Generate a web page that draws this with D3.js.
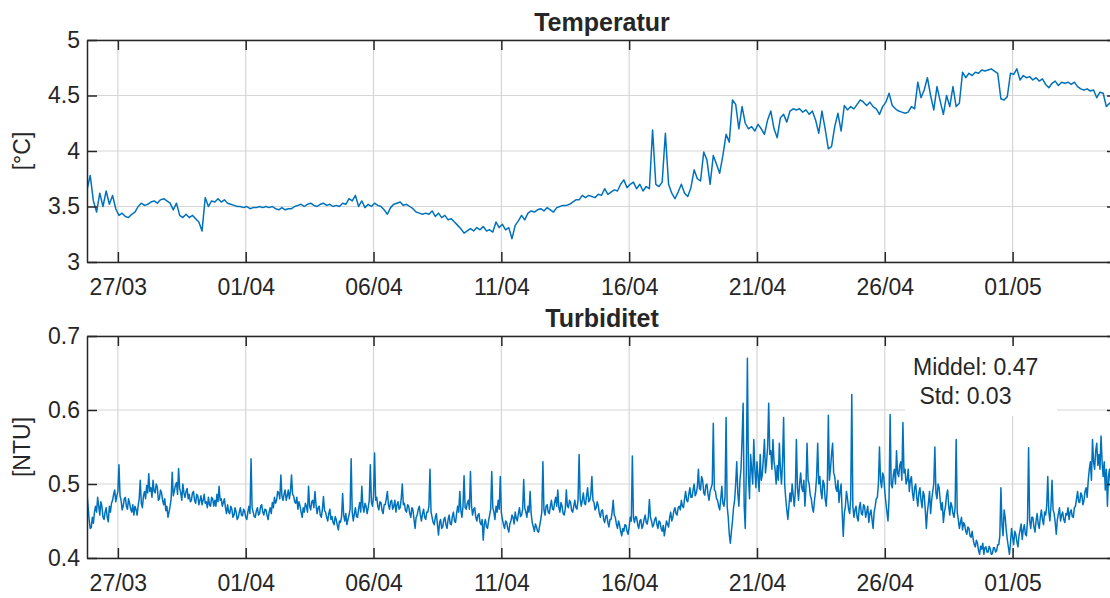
<!DOCTYPE html>
<html>
<head>
<meta charset="utf-8">
<script src="https://cdn.jsdelivr.net/npm/d3@7"></script>
<style>
  html, body { margin: 0; padding: 0; background: #fff; }
  svg { display: block; }
  text { font-family: "Liberation Sans", Arial, Helvetica, sans-serif; fill: #262626; }
</style>
</head>
<body>
<svg id="chart" width="1110" height="598"></svg>
<script>
// ---- Data ---------------------------------------------------------------
// Sensor series, evenly sampled from the first timestamp.
const seriesStart = Date.UTC(2021, 2, 25, 19, 0);   // 25/03 19:00
const tempStepHours = 3;
const turbStepHours = 1;

// Water temperature [°C], one sample every 3 hours
const temperature = [
  3.65,3.78,3.55,3.45,3.62,3.50,3.64,3.52,3.60,3.48,3.42,3.44,
  3.41,3.40,3.43,3.45,3.50,3.53,3.51,3.52,3.54,3.55,3.53,3.56,
  3.57,3.55,3.53,3.47,3.53,3.42,3.40,3.43,3.40,3.42,3.39,3.36,
  3.28,3.58,3.50,3.55,3.54,3.57,3.54,3.56,3.53,3.52,3.51,3.50,
  3.50,3.49,3.50,3.48,3.49,3.49,3.50,3.49,3.50,3.49,3.50,3.48,
  3.47,3.49,3.47,3.48,3.48,3.50,3.51,3.52,3.50,3.52,3.53,3.51,
  3.50,3.52,3.53,3.51,3.52,3.50,3.51,3.50,3.53,3.52,3.57,3.55,
  3.60,3.50,3.55,3.49,3.52,3.50,3.53,3.51,3.50,3.47,3.43,3.49,
  3.52,3.53,3.54,3.51,3.52,3.50,3.48,3.45,3.44,3.43,3.44,3.43,
  3.46,3.41,3.44,3.40,3.42,3.38,3.39,3.36,3.33,3.30,3.26,3.28,
  3.30,3.28,3.31,3.29,3.32,3.28,3.29,3.27,3.36,3.31,3.34,3.29,
  3.31,3.21,3.33,3.37,3.42,3.38,3.44,3.46,3.45,3.47,3.48,3.46,
  3.49,3.47,3.45,3.49,3.50,3.51,3.51,3.52,3.54,3.56,3.56,3.60,
  3.58,3.60,3.59,3.58,3.61,3.60,3.66,3.61,3.63,3.65,3.64,3.70,
  3.74,3.67,3.70,3.72,3.66,3.70,3.64,3.68,3.66,4.19,3.70,3.68,
  3.72,4.16,3.70,3.62,3.57,3.63,3.70,3.62,3.59,3.67,3.83,3.75,
  3.73,3.99,3.92,3.70,3.96,3.88,3.80,3.96,4.15,4.08,4.46,4.42,
  4.20,4.40,4.25,4.20,4.22,4.18,4.24,4.20,4.15,4.28,4.36,4.20,
  4.12,4.30,4.33,4.26,4.36,4.38,4.37,4.38,4.35,4.37,4.33,4.36,
  4.28,4.16,4.36,4.20,4.02,4.04,4.22,4.34,4.18,4.41,4.37,4.40,
  4.38,4.42,4.46,4.44,4.41,4.44,4.40,4.38,4.33,4.40,4.44,4.52,
  4.41,4.38,4.36,4.35,4.34,4.35,4.40,4.38,4.62,4.48,4.55,4.66,
  4.50,4.37,4.58,4.45,4.33,4.50,4.40,4.58,4.40,4.43,4.71,4.66,
  4.70,4.68,4.71,4.70,4.73,4.72,4.73,4.74,4.72,4.70,4.47,4.46,
  4.49,4.70,4.69,4.74,4.64,4.68,4.66,4.67,4.64,4.66,4.63,4.65,
  4.60,4.57,4.61,4.63,4.59,4.62,4.61,4.62,4.60,4.62,4.58,4.56,
  4.55,4.56,4.54,4.55,4.48,4.53,4.52,4.40,4.43,4.45
];

// Turbidity [NTU], one sample every hour (one row per day)
const turbidity = [
  0.488,0.470,0.452,0.440,0.441,0.455,0.447,0.462,0.470,0.462,0.482,0.470,0.458,0.476,0.470,0.455,0.452,0.462,0.468,0.455,0.449,0.470,0.462,0.474,
  0.478,0.486,0.492,0.476,0.484,0.490,0.526,0.484,0.478,0.465,0.470,0.480,0.482,0.470,0.466,0.480,0.474,0.466,0.462,0.472,0.458,0.470,0.466,0.458,
  0.470,0.480,0.505,0.474,0.468,0.484,0.490,0.480,0.498,0.488,0.514,0.490,0.495,0.482,0.505,0.490,0.488,0.500,0.496,0.478,0.480,0.492,0.488,0.478,
  0.472,0.480,0.464,0.470,0.455,0.462,0.470,0.480,0.516,0.484,0.490,0.498,0.502,0.486,0.521,0.494,0.488,0.478,0.500,0.488,0.482,0.490,0.494,0.480,
  0.486,0.476,0.478,0.488,0.490,0.478,0.474,0.486,0.484,0.472,0.478,0.484,0.472,0.478,0.486,0.474,0.476,0.468,0.482,0.472,0.470,0.482,0.480,0.470,
  0.478,0.470,0.486,0.476,0.497,0.478,0.480,0.470,0.475,0.480,0.468,0.460,0.472,0.462,0.460,0.470,0.466,0.455,0.458,0.468,0.462,0.452,0.455,0.462,
  0.468,0.458,0.457,0.466,0.463,0.455,0.452,0.462,0.470,0.460,0.534,0.468,0.462,0.456,0.455,0.464,0.468,0.458,0.460,0.470,0.472,0.462,0.458,0.466,
  0.465,0.458,0.452,0.462,0.468,0.460,0.475,0.468,0.482,0.474,0.478,0.490,0.488,0.480,0.512,0.484,0.478,0.486,0.492,0.478,0.484,0.492,0.480,0.490,
  0.512,0.486,0.484,0.476,0.474,0.482,0.466,0.476,0.470,0.462,0.455,0.468,0.462,0.474,0.470,0.462,0.497,0.470,0.465,0.476,0.478,0.468,0.490,0.472,
  0.460,0.468,0.470,0.458,0.455,0.466,0.483,0.464,0.462,0.455,0.450,0.460,0.466,0.452,0.456,0.448,0.445,0.456,0.452,0.444,0.438,0.450,0.448,0.456,
  0.487,0.458,0.450,0.460,0.445,0.452,0.458,0.466,0.534,0.462,0.450,0.460,0.468,0.456,0.455,0.466,0.475,0.462,0.497,0.470,0.462,0.474,0.470,0.460,
  0.468,0.478,0.526,0.476,0.470,0.484,0.542,0.478,0.482,0.470,0.465,0.476,0.475,0.464,0.460,0.472,0.472,0.480,0.490,0.472,0.466,0.476,0.478,0.466,
  0.470,0.478,0.462,0.472,0.476,0.466,0.468,0.480,0.500,0.472,0.474,0.464,0.462,0.472,0.470,0.460,0.455,0.468,0.465,0.452,0.440,0.455,0.458,0.466,
  0.470,0.458,0.450,0.460,0.466,0.455,0.452,0.462,0.462,0.470,0.520,0.462,0.455,0.448,0.445,0.455,0.460,0.445,0.431,0.448,0.452,0.440,0.442,0.452,
  0.455,0.445,0.440,0.452,0.458,0.446,0.445,0.456,0.462,0.450,0.448,0.460,0.470,0.462,0.490,0.464,0.455,0.470,0.511,0.468,0.466,0.474,0.478,0.466,
  0.517,0.470,0.458,0.466,0.468,0.455,0.450,0.458,0.460,0.448,0.445,0.452,0.424,0.446,0.452,0.442,0.440,0.450,0.458,0.466,0.517,0.468,0.462,0.452,
  0.470,0.462,0.478,0.466,0.510,0.462,0.452,0.445,0.440,0.450,0.448,0.440,0.435,0.446,0.450,0.458,0.455,0.446,0.462,0.454,0.450,0.460,0.468,0.456,
  0.458,0.466,0.506,0.468,0.462,0.455,0.470,0.462,0.490,0.460,0.448,0.442,0.436,0.446,0.442,0.436,0.435,0.444,0.452,0.462,0.530,0.465,0.458,0.470,
  0.472,0.462,0.460,0.470,0.478,0.466,0.465,0.475,0.482,0.470,0.492,0.468,0.462,0.475,0.470,0.460,0.458,0.466,0.492,0.470,0.468,0.478,0.475,0.464,
  0.462,0.470,0.478,0.468,0.466,0.478,0.540,0.480,0.470,0.478,0.488,0.474,0.472,0.484,0.495,0.476,0.478,0.486,0.510,0.478,0.475,0.465,0.468,0.476,
  0.470,0.460,0.455,0.464,0.465,0.452,0.448,0.456,0.458,0.448,0.442,0.452,0.452,0.462,0.478,0.458,0.455,0.446,0.440,0.450,0.445,0.436,0.430,0.440,
  0.436,0.445,0.444,0.436,0.432,0.442,0.455,0.450,0.538,0.455,0.448,0.456,0.455,0.445,0.440,0.450,0.452,0.440,0.444,0.452,0.458,0.448,0.446,0.455,
  0.479,0.455,0.450,0.442,0.445,0.452,0.455,0.446,0.440,0.450,0.448,0.440,0.436,0.444,0.430,0.440,0.450,0.446,0.442,0.455,0.462,0.450,0.455,0.464,
  0.468,0.460,0.458,0.468,0.470,0.465,0.478,0.470,0.468,0.480,0.490,0.478,0.476,0.486,0.495,0.482,0.482,0.492,0.500,0.484,0.488,0.496,0.520,0.494,
  0.492,0.510,0.505,0.488,0.485,0.498,0.500,0.486,0.478,0.490,0.495,0.500,0.582,0.492,0.490,0.480,0.478,0.470,0.465,0.480,0.497,0.474,0.470,0.482,
  0.590,0.470,0.455,0.432,0.420,0.436,0.450,0.468,0.478,0.500,0.530,0.488,0.470,0.505,0.520,0.560,0.609,0.470,0.440,0.520,0.670,0.510,0.480,0.540,
  0.520,0.500,0.560,0.520,0.495,0.530,0.510,0.490,0.540,0.505,0.512,0.535,0.560,0.515,0.530,0.550,0.609,0.540,0.545,0.520,0.560,0.530,0.520,0.500,
  0.525,0.505,0.555,0.520,0.500,0.530,0.590,0.500,0.480,0.465,0.452,0.470,0.488,0.476,0.500,0.485,0.470,0.490,0.560,0.495,0.478,0.500,0.515,0.495,
  0.490,0.505,0.470,0.495,0.555,0.505,0.500,0.485,0.480,0.468,0.462,0.478,0.490,0.510,0.555,0.500,0.510,0.490,0.480,0.505,0.500,0.480,0.470,0.495,
  0.593,0.505,0.520,0.540,0.555,0.515,0.510,0.495,0.490,0.505,0.475,0.490,0.500,0.460,0.429,0.460,0.470,0.490,0.480,0.466,0.460,0.480,0.621,0.470,
  0.455,0.465,0.470,0.455,0.450,0.468,0.475,0.460,0.458,0.472,0.470,0.455,0.462,0.470,0.448,0.460,0.465,0.452,0.440,0.462,0.470,0.480,0.482,0.500,
  0.550,0.505,0.495,0.515,0.510,0.490,0.475,0.462,0.450,0.480,0.594,0.500,0.495,0.512,0.520,0.500,0.545,0.515,0.510,0.525,0.530,0.505,0.583,0.515,
  0.520,0.500,0.505,0.520,0.490,0.505,0.510,0.488,0.478,0.495,0.500,0.482,0.470,0.488,0.495,0.478,0.468,0.490,0.485,0.465,0.440,0.462,0.475,0.490,
  0.460,0.478,0.490,0.500,0.550,0.488,0.480,0.500,0.495,0.478,0.465,0.475,0.448,0.462,0.470,0.485,0.492,0.470,0.458,0.475,0.470,0.460,0.455,0.468,
  0.560,0.462,0.452,0.440,0.448,0.455,0.438,0.448,0.445,0.436,0.432,0.442,0.440,0.430,0.428,0.436,0.425,0.418,0.415,0.424,0.420,0.410,0.405,0.416,
  0.412,0.420,0.405,0.414,0.415,0.408,0.408,0.416,0.412,0.405,0.406,0.414,0.414,0.408,0.410,0.418,0.418,0.430,0.495,0.445,0.430,0.465,0.455,0.438,
  0.425,0.415,0.405,0.420,0.440,0.428,0.418,0.436,0.432,0.422,0.415,0.430,0.438,0.446,0.425,0.438,0.445,0.432,0.430,0.452,0.549,0.450,0.440,0.455,
  0.455,0.442,0.435,0.450,0.460,0.446,0.440,0.455,0.465,0.452,0.445,0.462,0.458,0.470,0.510,0.462,0.450,0.470,0.505,0.465,0.460,0.448,0.432,0.452,
  0.460,0.468,0.450,0.458,0.462,0.452,0.448,0.460,0.458,0.468,0.452,0.462,0.465,0.456,0.455,0.468,0.470,0.480,0.490,0.476,0.475,0.488,0.485,0.472,
  0.478,0.490,0.495,0.482,0.505,0.520,0.530,0.505,0.560,0.530,0.520,0.545,0.555,0.525,0.540,0.520,0.565,0.530,0.510,0.530,0.492,0.520,0.470,0.510,
  0.520,0.495,0.500,0.515,0.505
];

// Axis ticks and labels
const dateTicks = [
  Date.UTC(2021,2,27), Date.UTC(2021,3,1), Date.UTC(2021,3,6), Date.UTC(2021,3,11),
  Date.UTC(2021,3,16), Date.UTC(2021,3,21), Date.UTC(2021,3,26), Date.UTC(2021,4,1)
];
const tempTicks = [3, 3.5, 4, 4.5, 5];
const turbTicks = [0.4, 0.5, 0.6, 0.7];
const panelTitles = ["Temperatur", "Turbiditet"];
const unitLabels = ["[°C]", "[NTU]"];
const statsLines = ["Middel: 0.47", " Std: 0.03"];

// ---- Layout -------------------------------------------------------------
const svg = d3.select("#chart");
const plotLeft = 87, plotRight = 1117;
const panels = [
  { top: 40,  bottom: 262, domain: [3, 5],     ticks: tempTicks, fmt: d3.format(""),  values: temperature, step: tempStepHours },
  { top: 336, bottom: 558, domain: [0.4, 0.7], ticks: turbTicks, fmt: d3.format(".1f"), values: turbidity,  step: turbStepHours }
];

const x = d3.scaleUtc()
  .domain([new Date(seriesStart), new Date(Date.UTC(2021, 4, 5, 2, 0))])
  .range([plotLeft, plotRight]);

const axisColor = "#262626";
const gridColor = "#d6d6d6";
const lineColor = "#0072BD";
const tickLen = 10;
const fontSize = 23;

svg.append("defs").selectAll("clipPath")
  .data(panels)
  .join("clipPath")
  .attr("id", (d, i) => "clip" + i)
  .append("rect")
  .attr("x", plotLeft).attr("y", d => d.top)
  .attr("width", plotRight - plotLeft).attr("height", d => d.bottom - d.top);

panels.forEach((p, i) => {
  const y = d3.scaleLinear().domain(p.domain).range([p.bottom, p.top]);
  const g = svg.append("g");

  // grid
  g.append("g").selectAll("line.vg").data(dateTicks).join("line")
    .attr("x1", d => x(d)).attr("x2", d => x(d))
    .attr("y1", p.top).attr("y2", p.bottom)
    .attr("stroke", gridColor).attr("stroke-width", 1.2);
  g.append("g").selectAll("line.hg").data(p.ticks).join("line")
    .attr("x1", plotLeft).attr("x2", plotRight)
    .attr("y1", d => y(d)).attr("y2", d => y(d))
    .attr("stroke", gridColor).attr("stroke-width", 1.2);

  // statistics text box (drawn over the grid)
  if (i === 1) {
    g.append("rect")
      .attr("x", 905).attr("y", 343).attr("width", 152).attr("height", 73)
      .attr("fill", "#fff");
  }

  // data line
  const line = d3.line()
    .x((v, k) => x(new Date(seriesStart + k * p.step * 3600e3)))
    .y(v => y(v));
  g.append("path")
    .attr("clip-path", `url(#clip${i})`)
    .attr("d", line(p.values))
    .attr("fill", "none")
    .attr("stroke", lineColor)
    .attr("stroke-width", 1.5)
    .attr("stroke-linejoin", "round");

  // axes (ticks pointing inward, box on)
  const bottomAxis = d3.axisBottom(x).tickValues(dateTicks.map(t => new Date(t)))
    .tickFormat(d3.utcFormat("%d/%m")).tickSizeInner(-tickLen).tickSizeOuter(0).tickPadding(17);
  const topAxis = d3.axisTop(x).tickValues(dateTicks.map(t => new Date(t)))
    .tickFormat("").tickSizeInner(-tickLen).tickSizeOuter(0);
  const leftAxis = d3.axisLeft(y).tickValues(p.ticks).tickFormat(p.fmt)
    .tickSizeInner(-tickLen).tickSizeOuter(0).tickPadding(7);
  const rightAxis = d3.axisRight(y).tickValues(p.ticks).tickFormat("")
    .tickSizeInner(-tickLen).tickSizeOuter(0);

  const styleAxis = sel => {
    sel.select(".domain").attr("stroke", axisColor).attr("stroke-width", 1.5);
    sel.selectAll(".tick line").attr("stroke", axisColor).attr("stroke-width", 1.5);
    sel.selectAll(".tick text").attr("fill", axisColor)
      .style("font-family", '"Liberation Sans", Arial, sans-serif')
      .style("font-size", fontSize + "px");
  };

  g.append("g").attr("transform", `translate(0,${p.bottom})`).call(bottomAxis).call(styleAxis)
    .selectAll(".tick text").attr("dy", "0.71em");
  g.append("g").attr("transform", `translate(0,${p.top})`).call(topAxis).call(styleAxis);
  g.append("g").attr("transform", `translate(${plotLeft},0)`).call(leftAxis).call(styleAxis);
  g.append("g").attr("transform", `translate(${plotRight},0)`).call(rightAxis).call(styleAxis);

  // title
  g.append("text")
    .attr("x", (plotLeft + plotRight) / 2).attr("y", p.top - 9)
    .attr("text-anchor", "middle")
    .style("font-size", "25px").style("font-weight", "bold").attr("fill", "#000")
    .text(panelTitles[i]);

  // unit label
  g.append("text")
    .attr("transform", `translate(30,${(p.top + p.bottom) / 2}) rotate(-90)`)
    .attr("text-anchor", "middle")
    .style("font-size", fontSize + "px")
    .text(unitLabels[i]);

  if (i === 1) {
    g.append("text").attr("x", 913).attr("y", 375).style("font-size", fontSize + "px")
      .style("white-space", "pre").text(statsLines[0]);
    g.append("text").attr("x", 913).attr("y", 404).style("font-size", fontSize + "px")
      .style("white-space", "pre").text(statsLines[1]);
  }
});
</script>
</body>
</html>
